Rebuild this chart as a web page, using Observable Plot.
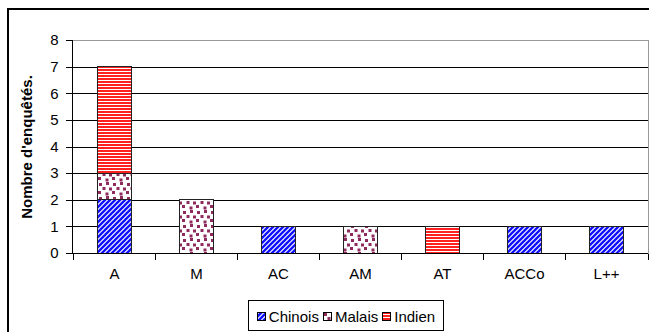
<!DOCTYPE html>
<html><head><meta charset="utf-8">
<script src="https://cdn.jsdelivr.net/npm/d3@7"></script>
<script src="https://cdn.jsdelivr.net/npm/@observablehq/plot@0.6"></script>
<style>
body{margin:0;background:#fff;font-family:"Liberation Sans",Arial,sans-serif;}
#wrap{position:relative;width:649px;height:332px;overflow:hidden;background:#fff;}
#frame{position:absolute;left:7px;top:8px;width:680px;height:360px;border:2px solid #000;box-sizing:border-box;}
#chart{position:absolute;left:0;top:0;}
#chart svg text{font-size:15px;}
#chart svg line, #chart svg path, #chart svg rect{shape-rendering:crispEdges;}
#legend{position:absolute;left:248px;top:300px;width:196px;height:31px;border:1px solid #000;box-sizing:border-box;display:flex;align-items:center;justify-content:center;gap:4px;font-size:15px;color:#000;padding-top:1px;}
#legend .item{display:flex;align-items:center;gap:3px;}
#legend svg{display:block;}
g[aria-label="y-axis label"] text{font-weight:bold;}
</style>
</head><body>
<svg width="0" height="0" style="position:absolute">
  <defs>
    <pattern id="pat-chinois" patternUnits="userSpaceOnUse" width="5" height="5">
      <rect width="5" height="5" fill="#fff"/>
      <path d="M-1,6 L6,-1 M-1,1 L1,-1 M4,6 L6,4" stroke="#1010ff" stroke-width="2.4"/>
    </pattern>
    <pattern id="pat-malais" patternUnits="userSpaceOnUse" width="14" height="14">
      <rect width="14" height="14" fill="#fff"/>
      <g fill="#8e2a5c">
        <rect x="1" y="1" width="3" height="3"/>
        <rect x="8" y="0" width="3" height="3"/>
        <rect x="4.5" y="5" width="3" height="3"/>
        <rect x="11" y="5.5" width="3" height="3"/>
        <rect x="0" y="9" width="3" height="3"/>
        <rect x="7.5" y="10.5" width="3" height="3"/>
      </g>
    </pattern>
    <pattern id="pat-indien" patternUnits="userSpaceOnUse" width="4" height="3">
      <rect width="4" height="3" fill="#fff"/>
      <rect width="4" height="2" fill="#ff2020"/>
    </pattern>
  </defs>
</svg>
<div id="wrap">
  <div id="frame"></div>
  <div id="chart"></div>
  <div id="legend"></div>
</div>
<script>
const categories = ["A", "M", "AC", "AM", "AT", "ACCo", "L++"];
const seriesNames = ["Chinois", "Malais", "Indien"];
const chinois = [2, 0, 1, 0, 0, 1, 1];
const malais  = [1, 2, 0, 1, 0, 0, 0];
const indien  = [4, 0, 0, 0, 1, 0, 0];
const yTicks = [0, 1, 2, 3, 4, 5, 6, 7, 8];
const yLabel = "Nombre d'enquêtés.";
const patterns = ["url(#pat-chinois)", "url(#pat-malais)", "url(#pat-indien)"];

const seriesValues = [chinois, malais, indien];
const data = [];
seriesNames.forEach((s, si) => {
  categories.forEach((c, ci) => {
    const v = seriesValues[si][ci];
    if (v > 0) data.push({category: c, series: s, value: v});
  });
});

const boundaryTicks = (index, scales, values, dimensions) => {
  const g = d3.create("svg:g");
  const x = scales.x;
  const {width, marginLeft, marginRight} = dimensions;
  const y0 = Math.round(scales.y(0)) + 0.5;
  const xs = categories.map(c => Math.round(x(c)) + 0.5).concat([width - marginRight + 0.5]);
  g.selectAll("line.t").data(xs).join("line")
    .attr("x1", d => d).attr("x2", d => d)
    .attr("y1", y0).attr("y2", y0 + 6)
    .attr("stroke", "#000");
  g.append("line")
    .attr("x1", marginLeft + 0.5).attr("x2", marginLeft + 0.5)
    .attr("y1", scales.y(8)).attr("y2", y0)
    .attr("stroke", "#000");
  return g.node();
};

const chart = Plot.plot({
  width: 649,
  height: 290,
  marginLeft: 72,
  marginRight: 1,
  marginTop: 40,
  marginBottom: 37,
  style: {fontFamily: "'Liberation Sans', Arial, sans-serif", fontSize: "15px", background: "transparent", color: "#000"},
  x: {domain: categories, padding: 0, label: null},
  y: {domain: [0, 8], label: null},
  color: {domain: seriesNames, range: patterns},
  marks: [
    Plot.frame({stroke: "#999"}),
    Plot.gridY(yTicks.filter(t => t > 0 && t < 8), {stroke: "#000", strokeOpacity: 1}),
    Plot.rectY(data, {x: "category", y: "value", fill: "series", stroke: "#222", strokeWidth: 1, insetLeft: 24, insetRight: 24}),
    Plot.ruleY([0], {stroke: "#000"}),
    Plot.axisY({ticks: yTicks, tickSize: 6, tickPadding: 8, fontSize: 15, label: yLabel, labelAnchor: "center", labelArrow: "none", labelOffset: 51}),
    Plot.axisX({tickSize: 0, tickPadding: 15, fontSize: 15, label: null}),
    boundaryTicks
  ]
});
document.getElementById("chart").appendChild(chart);

const legend = document.getElementById("legend");
seriesNames.forEach((s, i) => {
  const item = document.createElement("div");
  item.className = "item";
  item.innerHTML = `<svg width="9" height="9"><rect x="0.5" y="0.5" width="8" height="8" fill="${patterns[i]}" stroke="#000"/></svg><span>${s}</span>`;
  legend.appendChild(item);
});
</script>
</body></html>
